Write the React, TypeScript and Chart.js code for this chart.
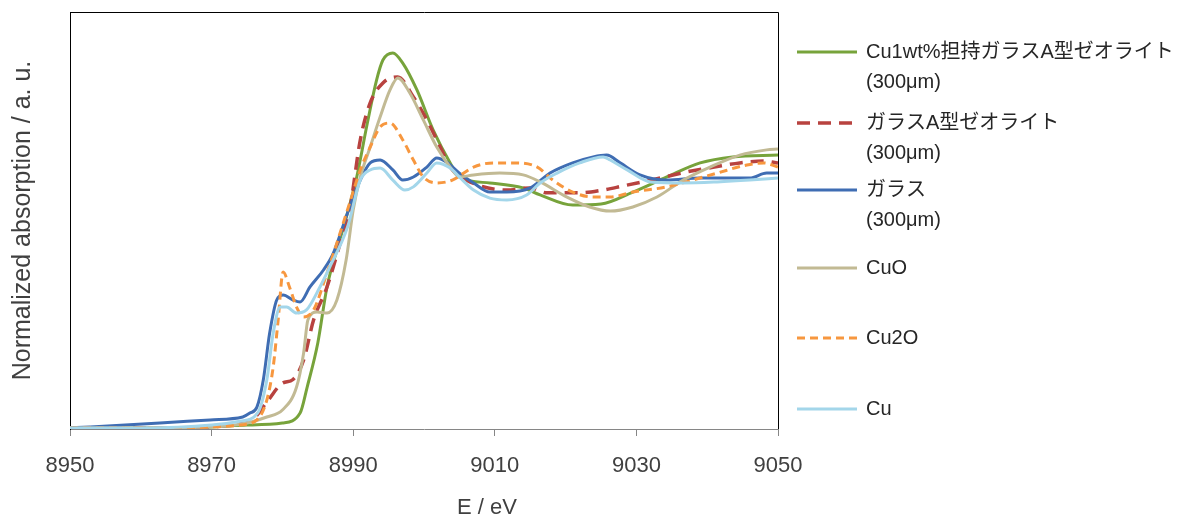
import React, { useEffect, useRef } from "react";
import { Chart, registerables } from "chart.js";

Chart.register(...registerables);

// ---- data (E / eV, normalized absorption) ----
const X_TICKS = [8950, 8970, 8990, 9010, 9030, 9050];

const E_CU1WT = [8950, 8960, 8970, 8975, 8980, 8982.5, 8983.5, 8985, 8986.3, 8988, 8989.3, 8990.5, 8992, 8993.3, 8994.2, 8995.6, 8997, 8999, 9001.3, 9003.7, 9005, 9009.3, 9014, 9016.4, 9021, 9025, 9029.5, 9034.3, 9039, 9043.6, 9050];
const MU_CU1WT = [0.004, 0.004, 0.008, 0.015, 0.023, 0.061, 0.161, 0.33, 0.545, 0.714, 0.84, 0.967, 1.174, 1.339, 1.416, 1.443, 1.404, 1.301, 1.147, 1.021, 0.967, 0.944, 0.925, 0.898, 0.859, 0.863, 0.909, 0.967, 1.021, 1.044, 1.051];

const E_ZEOLITE = [8950, 8965, 8970, 8974, 8976, 8978, 8980, 8981.5, 8983, 8984.4, 8986.3, 8988, 8989.5, 8991, 8992.4, 8994.2, 8996.3, 8998.5, 9000.4, 9002.3, 9003.7, 9006, 9011.7, 9015, 9017.4, 9022, 9025.3, 9028, 9032, 9034, 9037, 9041, 9044.6, 9048, 9050];
const MU_ZEOLITE = [0.004, 0.004, 0.008, 0.023, 0.042, 0.111, 0.176, 0.19, 0.265, 0.418, 0.545, 0.698, 0.84, 1.109, 1.251, 1.328, 1.351, 1.274, 1.186, 1.082, 1.005, 0.955, 0.917, 0.925, 0.906, 0.906, 0.917, 0.932, 0.955, 0.967, 0.986, 1.005, 1.021, 1.028, 1.021];

const E_GLASS = [8950, 8952.8, 8962.7, 8969.8, 8974.4, 8975.4, 8976.4, 8977.3, 8978.2, 8979.2, 8980.1, 8981.5, 8982.5, 8983.9, 8985.8, 8987.2, 8989.2, 8991, 8992.4, 8993.8, 8995.6, 8997, 8998.5, 9000.4, 9001.8, 9003.2, 9005, 9007, 9009.3, 9011.7, 9015, 9017.8, 9021, 9023.9, 9025.8, 9027.7, 9030.5, 9034.3, 9039, 9046, 9048.4, 9050];
const MU_GLASS = [0.004, 0.008, 0.023, 0.035, 0.046, 0.061, 0.084, 0.188, 0.368, 0.495, 0.514, 0.495, 0.487, 0.545, 0.61, 0.675, 0.829, 0.955, 1.021, 1.032, 0.994, 0.955, 0.967, 1.005, 1.04, 1.024, 0.982, 0.944, 0.909, 0.909, 0.925, 0.982, 1.021, 1.044, 1.051, 1.021, 0.975, 0.955, 0.963, 0.963, 0.982, 0.982];

const E_CUO = [8950, 8970, 8975, 8977.8, 8980, 8982, 8983, 8983.6, 8984.9, 8986.3, 8987.7, 8989, 8990, 8991, 8992.4, 8993.8, 8995.2, 8996.3, 8998, 8999.9, 9001.8, 9004, 9005, 9007, 9010.7, 9014, 9016.4, 9020.2, 9023.4, 9026.3, 9029.5, 9032.9, 9036.6, 9040.4, 9044.6, 9048.4, 9050];
const MU_CUO = [0.004, 0.008, 0.023, 0.046, 0.073, 0.161, 0.292, 0.418, 0.449, 0.445, 0.495, 0.648, 0.84, 0.967, 1.082, 1.197, 1.301, 1.347, 1.289, 1.186, 1.082, 0.994, 0.967, 0.975, 0.982, 0.975, 0.948, 0.89, 0.852, 0.836, 0.852, 0.89, 0.955, 1.005, 1.051, 1.071, 1.074];

const E_CU2O = [8950, 8965, 8970, 8974, 8976.4, 8977.8, 8978.7, 8979.4, 8980.1, 8981, 8982, 8983, 8984.4, 8986.3, 8987.7, 8989.5, 8991, 8992.4, 8993.8, 8995.2, 8997, 8998.5, 8999.9, 9001.8, 9004, 9007, 9009.8, 9013, 9016, 9018.2, 9021, 9023.9, 9026.3, 9029.5, 9034.3, 9037, 9041.4, 9045.6, 9048, 9050];
const MU_CU2O = [0.004, 0.004, 0.008, 0.015, 0.035, 0.111, 0.238, 0.418, 0.602, 0.545, 0.468, 0.43, 0.457, 0.599, 0.714, 0.867, 0.994, 1.082, 1.159, 1.174, 1.109, 1.032, 0.967, 0.944, 0.955, 1.005, 1.021, 1.021, 1.005, 0.955, 0.909, 0.89, 0.89, 0.909, 0.929, 0.948, 0.982, 1.013, 1.021, 1.005];

const E_CU = [8950, 8960, 8970, 8974, 8976.5, 8977.8, 8978.7, 8979.7, 8980.6, 8982, 8983.4, 8985.3, 8986.7, 8989.2, 8991, 8992.4, 8993.8, 8995.6, 8997.3, 8998.5, 9000.4, 9001.8, 9003.7, 9005, 9007, 9009.3, 9011.7, 9014.5, 9016.4, 9018.8, 9022, 9025.3, 9026.3, 9028.7, 9032, 9036.6, 9041.4, 9046, 9050];
const MU_CU = [0.004, 0.004, 0.015, 0.03, 0.061, 0.188, 0.368, 0.468, 0.468, 0.445, 0.457, 0.545, 0.622, 0.775, 0.955, 0.994, 1.001, 0.955, 0.917, 0.929, 0.982, 1.021, 1.001, 0.967, 0.917, 0.886, 0.879, 0.898, 0.944, 0.982, 1.021, 1.044, 1.032, 0.994, 0.948, 0.944, 0.948, 0.955, 0.963];

const LEGEND_LABELS: string[][] = [
  ["Cu1wt%担持ガラスA型ゼオライト", "(300μm)"],
  ["ガラスA型ゼオライト", "(300μm)"],
  ["ガラス", "(300μm)"],
  ["CuO"],
  ["Cu2O"],
  ["Cu"],
];

const X_TITLE = "E / eV";
const Y_TITLE = "Normalized absorption / a. u.";

// ---- styling ----
const SERIES = [
  { e: E_CU1WT, mu: MU_CU1WT, color: "#77A33B", width: 3, dash: [] as number[] },
  { e: E_ZEOLITE, mu: MU_ZEOLITE, color: "#B8423F", width: 3.5, dash: [13, 8] },
  { e: E_GLASS, mu: MU_GLASS, color: "#3F6DB3", width: 3, dash: [] as number[] },
  { e: E_CUO, mu: MU_CUO, color: "#C2BA94", width: 3, dash: [] as number[] },
  { e: E_CU2O, mu: MU_CU2O, color: "#F7973F", width: 3, dash: [8, 5] },
  { e: E_CU, mu: MU_CU, color: "#A3D6EA", width: 3, dash: [] as number[] },
];

const LEGEND_ROW_Y = [52, 123, 190, 268, 338, 409];
const FONT_LATIN = '"Liberation Sans", "Noto Sans CJK JP", sans-serif';

const overlayPlugin = {
  id: "overlay",
  beforeDatasetsDraw(chart: any) {
    const { ctx, chartArea } = chart;
    const { left, right, top, bottom } = chartArea;
    ctx.save();
    ctx.strokeStyle = "#000000";
    ctx.lineWidth = 1;
    ctx.beginPath();
    ctx.moveTo(left + 0.5, bottom);
    ctx.lineTo(left + 0.5, top + 0.5);
    ctx.lineTo(right + 0.5, top + 0.5);
    ctx.lineTo(right + 0.5, bottom);
    ctx.stroke();
    ctx.restore();
  },
  afterDraw(chart: any) {
    const { ctx } = chart;
    ctx.save();
    chart.data.datasets.forEach((ds: any, i: number) => {
      const y = LEGEND_ROW_Y[i];
      ctx.strokeStyle = ds.borderColor;
      ctx.lineWidth = ds.borderWidth;
      ctx.setLineDash(ds.borderDash || []);
      ctx.beginPath();
      ctx.moveTo(797, y);
      ctx.lineTo(857, y);
      ctx.stroke();
      ctx.setLineDash([]);
      ctx.fillStyle = "#262626";
      ctx.font = `20px ${FONT_LATIN}`;
      ctx.textBaseline = "middle";
      ctx.textAlign = "left";
      LEGEND_LABELS[i].forEach((t, j) => ctx.fillText(t, 866, y + j * 30));
    });
    ctx.fillStyle = "#404040";
    ctx.font = `22px ${FONT_LATIN}`;
    ctx.textAlign = "center";
    ctx.textBaseline = "middle";
    ctx.fillText(X_TITLE, 487, 508);
    ctx.restore();
  },
};

export default function App() {
  const ref = useRef<HTMLCanvasElement | null>(null);

  useEffect(() => {
    document.body.style.margin = "0";
    const canvas = ref.current;
    if (!canvas) return;
    const chart = new Chart(canvas, {
      type: "line",
      data: {
        datasets: SERIES.map((s, i) => ({
          label: LEGEND_LABELS[i].join(" "),
          data: s.e.map((x, k) => ({ x, y: s.mu[k] })),
          borderColor: s.color,
          backgroundColor: s.color,
          borderWidth: s.width,
          borderDash: s.dash,
          pointRadius: 0,
          fill: false,
          cubicInterpolationMode: "monotone" as const,
          order: SERIES.length - i,
        })),
      },
      options: {
        animation: false,
        responsive: false,
        maintainAspectRatio: false,
        layout: { padding: { left: 0, right: 407, top: 12, bottom: 0 } },
        plugins: { legend: { display: false }, tooltip: { enabled: false } },
        scales: {
          x: {
            type: "linear",
            min: 8950,
            max: 9050,
            afterBuildTicks: (scale: any) => {
              scale.ticks = X_TICKS.map((v) => ({ value: v }));
            },
            afterFit: (scale: any) => {
              scale.height = 90;
            },
            ticks: {
              color: "#404040",
              font: { family: FONT_LATIN, size: 22 },
              padding: 17,
              maxRotation: 0,
              autoSkip: false,
              callback: (v: any) => String(v),
            },
            grid: {
              display: true,
              drawOnChartArea: false,
              drawTicks: true,
              tickLength: 7,
              color: "#868686",
            },
            border: { display: true, color: "#868686", width: 1 },
          },
          y: {
            type: "linear",
            min: 0,
            max: 1.6,
            afterFit: (scale: any) => {
              scale.width = 70;
            },
            ticks: { display: false },
            grid: { display: false, drawTicks: false },
            border: { display: true, color: "#000000", width: 1 },
            title: {
              display: true,
              text: Y_TITLE,
              color: "#404040",
              font: { family: FONT_LATIN, size: 25 },
              padding: { top: 8, bottom: 0 },
            },
          },
        },
      },
      plugins: [overlayPlugin],
    });
    return () => chart.destroy();
  }, []);

  return (
    <div style={{ width: 1185, height: 519, position: "relative" }}>
      <canvas ref={ref} width={1185} height={519} style={{ display: "block" }} />
    </div>
  );
}
